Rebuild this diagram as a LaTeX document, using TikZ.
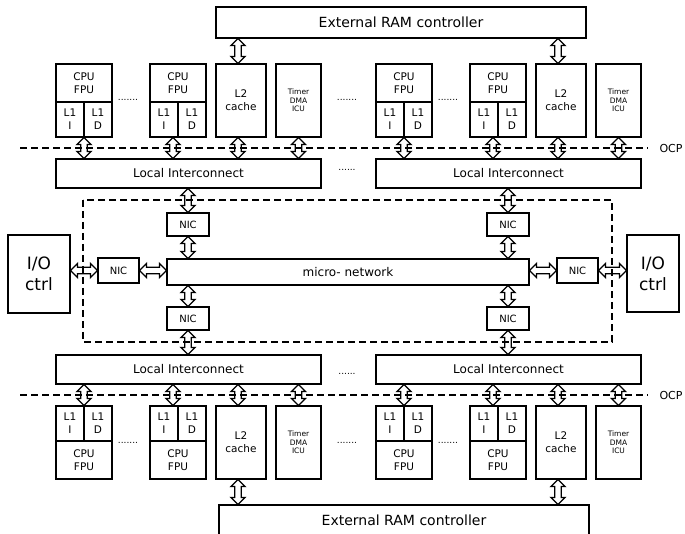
\documentclass[tikz,border=0pt]{standalone}
\usepackage{fontspec}
\setmainfont{DejaVu Sans}
\usetikzlibrary{calc}

\tikzset{
  box/.style={draw, line width=1.1pt, inner sep=0pt, align=center},
  kern/.style={box, font=\fontsize{10.5}{13}\selectfont},
  klein/.style={box, font=\fontsize{7.5}{8.5}\selectfont},
  mittel/.style={box, font=\fontsize{12}{14}\selectfont},
  nicbox/.style={box, font=\fontsize{10}{12}\selectfont},
  gross/.style={box, font=\fontsize{17}{21}\selectfont},
  rambox/.style={box, font=\fontsize{14}{16}\selectfont},
  % hohler Doppelpfeil als Umriss
  bus/.style={draw, fill=white, line width=1.3pt, to path={
    (\tikztostart) coordinate (bs) (\tikztotarget) coordinate (bt)
    (bs) -- ($(bs)!7pt!(bt)!7pt!90:(bt)$) -- ($(bs)!7pt!(bt)!3.2pt!90:(bt)$)
    -- ($(bt)!7pt!(bs)!3.2pt!-90:(bs)$) -- ($(bt)!7pt!(bs)!7pt!-90:(bs)$)
    -- (bt) -- ($(bt)!7pt!(bs)!7pt!90:(bs)$) -- ($(bt)!7pt!(bs)!3.2pt!90:(bs)$)
    -- ($(bs)!7pt!(bt)!3.2pt!-90:(bt)$) -- ($(bs)!7pt!(bt)!7pt!-90:(bt)$) -- cycle}},
  grenze/.style={line width=1.1pt, dash pattern=on 7pt off 4pt},
  punkte/.style={inner sep=0pt, font=\fontsize{9}{9}\selectfont},
}

\begin{document}
\begin{tikzpicture}[x=1pt,y=-1pt]
\useasboundingbox (0,0) rectangle (685,534);
\clip (0,0) rectangle (685,534);

% Spiegelachse und Versatz der rechten Haelfte
\def\cy{271.5}
\def\gap{320}

% ------------------- Mikro-Netzwerk -------------------
\node[mittel, minimum width=362pt, minimum height=26pt] (net) at (348,272) {micro- network};

% ------------------- Cluster oben / unten -------------------
\foreach \row/\dir/\toc/\tob in {t/-1/south/north, b/1/north/south} {
  % Externer Speicher
  \node[rambox, minimum width=370pt, minimum height=31pt]
    (ram-\row) at (402.5+\dir*1.5, \cy+\dir*249) {External RAM controller};

  \foreach \col/\dx in {l/0, r/\gap} {
    % Lokaler Interconnect
    \node[mittel, minimum width=265pt, minimum height=29pt]
      (lic-\row\col) at (188.5+\dx, \cy+\dir*98) {Local Interconnect};

    % Prozessoren mit L1
    \foreach \k/\cx/\sh in {a/56/0, b/150/-5} {
      \node[kern, minimum width=56pt, minimum height=38pt]
        (cpu\k-\row\col) at (\cx+\dx+28, \cy+\dir*188.5) {CPU\\FPU};
      \node[kern, minimum width=28pt, minimum height=35pt]
        (li\k-\row\col) at (\cx+\dx+14, \cy+\dir*152) {L1\\I};
      \node[kern, minimum width=28pt, minimum height=35pt]
        (ld\k-\row\col) at (\cx+\dx+42, \cy+\dir*152) {L1\\D};
      \path (ld\k-\row\col.\toc) ++(-14+\sh,0) coordinate (sp\k-\row\col);
      \draw[bus] (sp\k-\row\col) to (sp\k-\row\col |- lic-\row\col.\tob);
    }

    % L2 und Peripherie
    \node[kern, minimum width=50pt, minimum height=73pt]
      (ltwo-\row\col) at (241+\dx, \cy+\dir*171) {L2\\cache};
    \node[klein, minimum width=45pt, minimum height=73pt]
      (tim-\row\col) at (298.5+\dx, \cy+\dir*171) {Timer\\DMA\\ICU};
    \coordinate (lx-\row\col) at ([xshift=-3pt]ltwo-\row\col.center);
    \draw[bus] (lx-\row\col |- ltwo-\row\col.\toc) to (lx-\row\col |- lic-\row\col.\tob);
    \draw[bus] (lx-\row\col |- ltwo-\row\col.\tob) to (lx-\row\col |- ram-\row.\toc);
    \draw[bus] (tim-\row\col.\toc) to (tim-\row\col.\toc |- lic-\row\col.\tob);

    % Netzwerk-Interface
    \node[nicbox, minimum width=42pt, minimum height=23pt]
      (nic-\row\col) at (188+\dx, \cy+\dir*47) {NIC};
    \draw[bus] (nic-\row\col.\tob |- lic-\row\col.\toc) to (nic-\row\col.\tob);
    \draw[bus] (nic-\row\col.\toc) to (nic-\row\col.\toc |- net.\tob);

    \node[punkte] (pa-\row\col) at (128+\dx, \cy+\dir*171.5) {.......};
  }

  \node[punkte] (pm-\row) at (347, \cy+\dir*171.5) {.......};
  \node[punkte] (pl-\row) at (347, \cy+\dir*102) {......};

  % OCP-Grenze
  \draw[grenze] (20, \cy+\dir*123.5) -- (648, \cy+\dir*123.5);
  \node[inner sep=0pt, font=\fontsize{11}{13}\selectfont] (ocp-\row) at (671, \cy+\dir*123.5) {OCP};
}

% ------------------- Ein-/Ausgabe -------------------
\node[gross, minimum width=62pt, minimum height=78pt] (io-l) at (39,274) {I/O\\ctrl};
\node[gross, minimum width=52pt, minimum height=77pt] (io-r) at (653,273.5) {I/O\\ctrl};
\node[nicbox, minimum width=41pt, minimum height=25pt] (nic-l) at (118.5,270.5) {NIC};
\node[nicbox, minimum width=41pt, minimum height=25pt] (nic-r) at (577.5,270.5) {NIC};

\draw[bus] (nic-l.west -| io-l.east) to (nic-l.west);
\draw[bus] (nic-l.east) to (nic-l.east -| net.west);
\draw[bus] (net.east |- nic-r.west) to (nic-r.west);
\draw[bus] (nic-r.east) to (nic-r.east -| io-r.west);

% Grenze des Netzwerks
\draw[grenze] (83,200) rectangle (612,342);

\end{tikzpicture}
\end{document}
